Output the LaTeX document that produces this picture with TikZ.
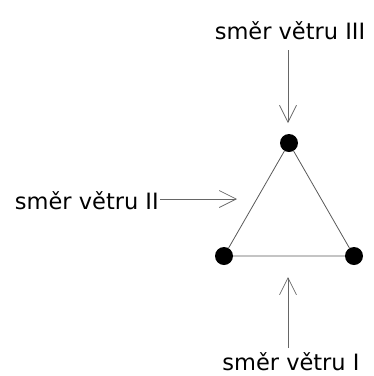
\documentclass[tikz,border=0pt]{standalone}
\usepackage{fontspec}
\setmainfont{DejaVu Sans}
\usetikzlibrary{arrows.meta}
\begin{document}
\begin{tikzpicture}[x=1pt,y=-1pt,
  edge/.style={draw=black!65,line width=0.8pt},
  wind/.style={draw=black!60,line width=0.7pt,-{Straight Barb[length=17pt,width=17pt,line width=0.7pt]}},
  joint/.style={circle,fill=black,inner sep=0pt,minimum size=18pt},
  label/.style={font=\fontsize{22.5}{26}\selectfont,inner sep=0pt}]
\useasboundingbox (0,0) rectangle (374,376);
% joints of the triangle
\node[joint] (t) at (289,143) {};
\node[joint] (l) at (224,256) {};
\node[joint] (r) at (354,256) {};
\draw[edge] (t) -- (l) -- (r) -- (t);
% wind directions
\node[label,anchor=base] (w3) at (290,39.5) {směr větru III};
\coordinate (s3) at (288,50);
\coordinate (e3) at (288,123);
\draw[wind] (s3) -- (e3);
\node[label,anchor=base east] (w2) at (159,209.5) {směr větru II};
\coordinate (e2) at (237,199);
\draw[wind] ([xshift=1pt]w2.east |- e2) -- (e2);
\node[label,anchor=base] (w1) at (291,370.5) {směr větru I};
\coordinate (s1) at (288,348);
\coordinate (e1) at (288,277);
\draw[wind] (s1) -- (e1);
\end{tikzpicture}
\end{document}
